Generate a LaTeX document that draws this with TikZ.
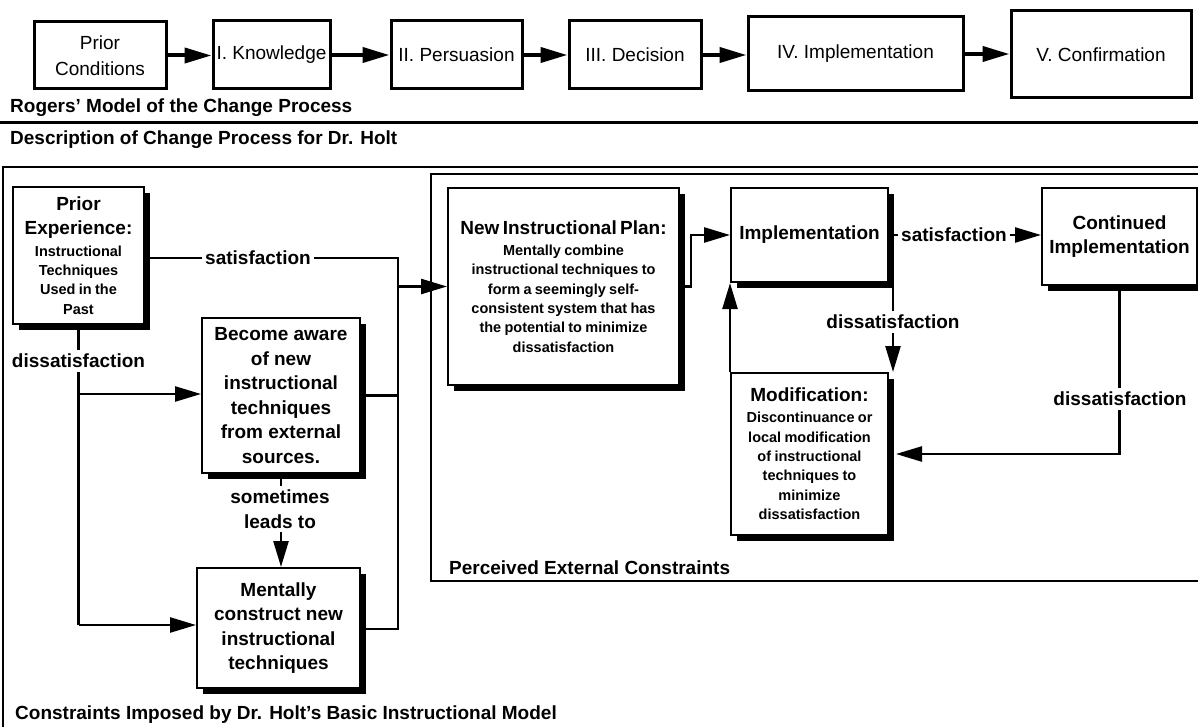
\documentclass[tikz,border=0pt]{standalone}
\usepackage{fontspec}
\setmainfont{Liberation Sans}
\usetikzlibrary{arrows.meta,shadows,calc}
\newcommand\hlab{\fontsize{19}{24.5}\selectfont\bfseries}
\newcommand\hsml{\fontsize{14.5}{19.4}\selectfont\bfseries}
\newcommand\htop{\fontsize{19}{25.5}\selectfont}
\begin{document}
\begin{tikzpicture}[x=1pt,y=-1pt,
  topbox/.style={draw, line width=3pt, align=center, font=\htop, inner sep=0pt},
  dbox/.style={draw, fill=white, line width=2pt, inner sep=0pt, align=center,
     drop shadow={shadow xshift=6pt, shadow yshift=-6pt, fill=black, opacity=1}},
  toparr/.style={line width=4pt, -{Triangle[length=27pt,width=15pt]}},
  conn/.style={line width=2.5pt},
  arr/.style={conn, -{Triangle[length=26pt,width=15pt]}},
  frame/.style={line width=1.5pt},
  lab/.style={font=\hlab, fill=white, inner xsep=3pt, inner ysep=4pt},
  ttl/.style={font=\hlab, anchor=west, inner sep=0pt}
]
\useasboundingbox (0,0) rectangle (1198,727);
\fill[white] (0,0) rectangle (1198,727);

% ---------- Rogers' model (top row)
\node[topbox, minimum width=132pt, minimum height=67pt] (pc) at (100,55.5) {Prior\\Conditions};
\node[topbox, minimum width=117pt, minimum height=68pt] (kn) at (271.5,55) {I. Knowledge};
\node[topbox, minimum width=131pt, minimum height=68pt] (ps) at (456.5,55) {II. Persuasion};
\node[topbox, minimum width=132pt, minimum height=68pt] (dc) at (635,55) {III. Decision};
\node[topbox, minimum width=215pt, minimum height=74pt] (iv) at (855.5,54) {IV. Implementation};
\node[topbox, minimum width=180pt, minimum height=87pt] (cf) at (1101,54.5) {V. Confirmation};
\draw[toparr] (pc.east) -- (pc.east -| kn.west);
\draw[toparr] (kn.east) -- (kn.east -| ps.west);
\draw[toparr] (ps.east) -- (ps.east -| dc.west);
\draw[toparr] (dc.east) -- (dc.east -| iv.west);
\draw[toparr] (iv.east) -- (iv.east -| cf.west);

\node[ttl] (t1) at (10,108) {Rogers' Model of the Change Process};
\draw[line width=3pt] (0,123) -- (1198,123);
\node[ttl] (t2) at (10,140) {Description of Change Process for Dr. Holt};

% ---------- frames
\draw[frame] (1198,167) -- (3,167) -- (3,727);
\draw[frame] (1198,174) -- (431,174) -- (431,581) -- (1198,581);
\node[ttl] (t3) at (449,568) {Perceived External Constraints};
\node[ttl] (t4) at (15,715) {Constraints Imposed by Dr. Holt's Basic Instructional Model};

% ---------- boxes
\node[dbox, minimum width=131pt, minimum height=137pt, text width=125pt] (pe) at (78.5,255.5)
  {{\hlab Prior\\Experience:\par}\vspace{2pt}{\hsml Instructional\\Techniques\\Used in the\\Past\par}};
\node[dbox, minimum width=158pt, minimum height=155pt, font=\hlab] (ba) at (281,395.5)
  {Become aware\\of new\\instructional\\techniques\\from external\\sources.};
\node[dbox, minimum width=163pt, minimum height=120pt, font=\hlab] (ml) at (278.5,628)
  {Mentally\\construct new\\instructional\\techniques};
\node[dbox, minimum width=231pt, minimum height=197pt, text width=225pt] (np) at (563.5,286.5)
  {{\hlab New Instructional Plan:\par}\vspace{1.5pt}{\hsml Mentally combine\\instructional techniques to\\form a seemingly self-\\consistent system that has\\the potential to minimize\\dissatisfaction\par}};
\node[dbox, minimum width=157pt, minimum height=94pt, font=\hlab] (im) at (809.5,235) {Implementation};
\node[dbox, minimum width=155pt, minimum height=97pt, font=\hlab] (ci) at (1119.5,236.5) {Continued\\Implementation};
\node[dbox, minimum width=157pt, minimum height=162pt, text width=151pt] (md) at (809.5,454)
  {{\hlab Modification:\par}\vspace{1.5pt}{\hsml Discontinuance or\\local modification\\of instructional\\techniques to\\minimize\\dissatisfaction\par}};

% ---------- connectors
\coordinate (j1) at (398,258);
\coordinate (j2) at (398,629);
\coordinate (d1) at (78.5,394);
\coordinate (d2) at (78.5,625);
\draw[conn] ([yshift=-2.5pt]pe.east) -- (j1) -- (j2) -- (j2 -| ml.east);
\draw[conn] (ba.east) -- (ba.east -| j1);
\draw[arr] (j1 |- np.west) -- (np.west);
\draw[conn] (pe.south) -- (d2);
\draw[arr] (d1) -- (d1 -| ba.west);
\draw[arr] (d2) -- (d2 -| ml.west);
\draw[arr] (ba.south) -- (ba.south |- ml.north);
\draw[arr] (np.east) -- ++(11,0) |- (im.west);
\draw[arr] (im.east) -- (im.east -| ci.west);
\draw[arr] ([xshift=4pt]im.south east) -- ([xshift=4pt]md.north east);
\draw[arr] (md.north west) -- (im.south west);
\draw[arr] (ci.south) |- ([xshift=7pt]md.east);

% ---------- labels
\node[lab] (s1) at (258,258) {satisfaction};
\node[lab] (s2) at (954,235) {satisfaction};
\node[lab] (x1) at (78.5,361) {dissatisfaction};
\node[lab] (x2) at (893,322) {dissatisfaction};
\node[lab] (x3) at (1120,399) {dissatisfaction};
\node[lab, align=center] (sl) at (280,509) {sometimes\\leads to};
\end{tikzpicture}
\end{document}
